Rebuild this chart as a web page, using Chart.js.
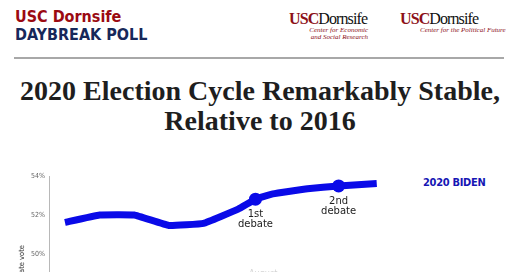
<!DOCTYPE html>
<html>
<head>
<meta charset="utf-8">
<script src="https://cdn.jsdelivr.net/npm/chart.js@4"></script>
<style>
  html, body { margin: 0; padding: 0; }
  body { width: 520px; height: 272px; overflow: hidden; background: #fff; position: relative; font-family: "DejaVu Sans", sans-serif; }
  .abs { position: absolute; white-space: nowrap; }
  .brand1 { left: 15px; top: 7px; font: bold 16px "DejaVu Sans Condensed", "Roboto", sans-serif; color: #9b0a12; }
  .brand2 { left: 15px; top: 25px; font: bold 16px "DejaVu Sans Condensed", "Roboto", sans-serif; color: #17285a; }
  .logo { font: 16px "Liberation Serif", serif; color: #111; letter-spacing: -0.9px; }
  .logo b { color: #8c1018; font-weight: bold; }
  .sub { font: italic 7px "Liberation Serif", serif; color: #8c1018; line-height: 7px; text-align: right; }
  .rule { left: 14px; top: 57px; width: 490px; height: 2px; background: #a8a8a8; }
  .title { left: 0; width: 520px; top: 76px; text-align: center; font: bold 28px "Liberation Serif", serif; color: #1e1e1e; line-height: 30px; }
  .legend { left: 423px; top: 176px; font: bold 11px "DejaVu Sans Condensed", "Roboto", sans-serif; color: #1616b4; letter-spacing: -0.3px; }
  .ytitle { transform-origin: 0 0; transform: rotate(-90deg) translateX(-100%); font: 7.5px "DejaVu Sans Condensed", sans-serif; color: #333; }
  .xlab { font: 9px "DejaVu Sans Condensed", sans-serif; color: #d4d4d4; }
  #wrap { position: absolute; left: 0; top: 160px; width: 520px; height: 180px; }
</style>
</head>
<body>
<div class="abs brand1">USC Dornsife</div>
<div class="abs brand2">DAYBREAK POLL</div>

<div class="abs logo" style="left:289px; top:10px;"><b>USC</b>Dornsife</div>
<div class="abs sub" style="left:300px; top:27px; width:68px;">Center for Economic<br>and Social Research</div>
<div class="abs logo" style="left:400px; top:10px;"><b>USC</b>Dornsife</div>
<div class="abs sub" style="left:420px; top:27px; width:82px;">Center for the Political Future</div>

<div class="abs rule"></div>
<div class="abs title">2020 Election Cycle Remarkably Stable,<br>Relative to 2016</div>
<div class="abs legend">2020 BIDEN</div>

<div id="wrap"><canvas id="chart"></canvas></div>
<div class="abs ytitle" style="left:17px; top:245px;">Share of two-party candidate vote</div>
<div class="abs xlab" style="left:249px; top:268px;">August</div>

<script>
// weeks from start of tracking (approx), Biden share of vote
const weeks = [0, 1, 2, 3, 4, 5, 5.5, 6, 7, 7.9, 9];
const bidenShare = [51.62, 52.0, 52.0, 51.46, 51.57, 52.3, 52.81, 53.08, 53.35, 53.49, 53.62];
const debateWeeks = [5.5, 7.9];
const debateLabels = [['1st', 'debate'], ['2nd', 'debate']];
const yTicks = [54, 52, 50, 48];

const debateLabelPlugin = {
    id: 'debateLabels',
    afterDatasetsDraw(chart) {
        const ctx = chart.ctx;
        const xs = chart.scales.x;
        const ys = chart.scales.y;
        ctx.save();
        ctx.fillStyle = '#222';
        ctx.font = '10px "DejaVu Sans", sans-serif';
        ctx.textAlign = 'center';
        ctx.textBaseline = 'top';
        debateWeeks.forEach((w, i) => {
            const idx = weeks.indexOf(w);
            const px = xs.getPixelForValue(w);
            const py = ys.getPixelForValue(bidenShare[idx]);
            debateLabels[i].forEach((line, j) => {
                ctx.fillText(line, px, py + 10 + j * 10.5);
            });
        });
        ctx.restore();
    }
};

new Chart(document.getElementById('chart'), {
    type: 'line',
    data: {
        datasets: [{
            label: '2020 Biden',
            data: weeks.map((w, i) => ({ x: w, y: bidenShare[i] })),
            borderColor: '#0a0ae8',
            backgroundColor: '#0a0ae8',
            borderWidth: 7,
            tension: 0.08,
            borderCapStyle: 'butt',
            pointRadius: ctx => debateWeeks.includes(weeks[ctx.dataIndex]) ? 6.5 : 0,
            pointBorderWidth: 0
        }]
    },
    options: {
        responsive: true,
        maintainAspectRatio: false,
        animation: false,
        layout: { padding: { top: 16, right: 22, left: 0, bottom: 0 } },
        plugins: { legend: { display: false }, tooltip: { enabled: false } },
        scales: {
            x: {
                type: 'linear',
                min: -0.46,
                max: 12.5,
                display: false
            },
            y: {
                min: 46,
                max: 54,
                afterFit: s => { s.width = 49; },
                afterBuildTicks: s => { s.ticks = yTicks.map(v => ({ value: v })); },
                grid: { display: false, drawTicks: false },
                border: { display: true, color: '#b8b8b8', width: 1 },
                ticks: {
                    padding: 4,
                    color: '#666',
                    font: { size: 7, family: '"DejaVu Sans Condensed", sans-serif' },
                    callback: v => v + '%'
                }
            }
        }
    },
    plugins: [debateLabelPlugin]
});
</script>
</body>
</html>
